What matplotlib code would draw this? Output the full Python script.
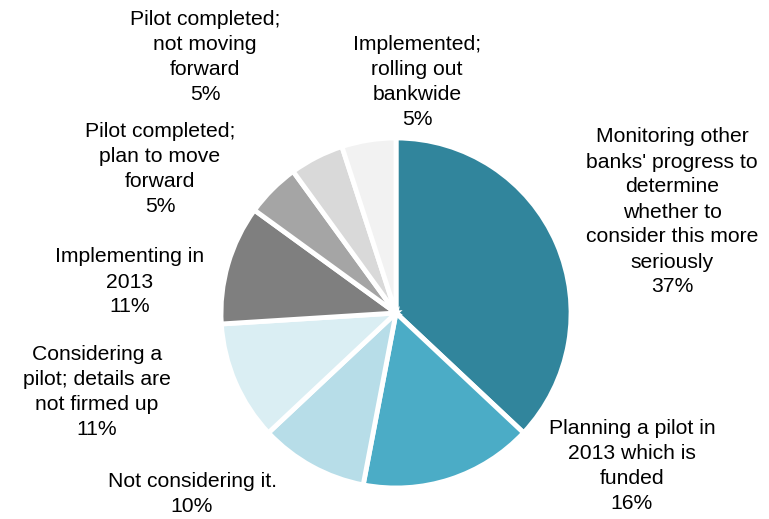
import matplotlib.pyplot as plt

plt.rcParams['font.family'] = ['Liberation Sans', 'DejaVu Sans']

categories = [
    "Monitoring other\nbanks' progress to\ndetermine\nwhether to\nconsider this more\nseriously",
    "Planning a pilot in\n2013 which is\nfunded",
    "Not considering it.",
    "Considering a\npilot; details are\nnot firmed up",
    "Implementing in\n2013",
    "Pilot completed;\nplan to move\nforward",
    "Pilot completed;\nnot moving\nforward",
    "Implemented;\nrolling out\nbankwide",
]
shares = [37, 16, 10, 11, 11, 5, 5, 5]
colors = ["#31859C", "#4BACC6", "#B7DDE8", "#DAEEF3",
          "#7F7F7F", "#A5A5A5", "#D9D9D9", "#F2F2F2"]
explode = [0.06, 0, 0, 0, 0, 0, 0, 0]

# label anchor points (pixels from top-left)
label_pos = [(672, 212), (632, 466), (192, 494), (97, 392),
             (130, 282), (160, 169), (205, 57), (417, 82)]

W, H = 769, 519
fig = plt.figure(figsize=(W / 100, H / 100), dpi=100)
ax = fig.add_axes([0, 0, 1, 1])

ax.pie(shares, colors=colors, explode=explode, startangle=90, counterclock=False,
       center=(396, H - 313), radius=175,
       wedgeprops=dict(edgecolor='white', linewidth=3.5))

for cat, val, (x, y) in zip(categories, shares, label_pos):
    ax.text(x, H - y, f"{cat}\n{val}%", ha='center', va='center',
            fontsize=15.2, color='black', linespacing=1.4)

ax.set_xlim(0, W)
ax.set_ylim(0, H)
ax.set_aspect('equal')
ax.axis('off')

fig.savefig("out.png", dpi=100)
